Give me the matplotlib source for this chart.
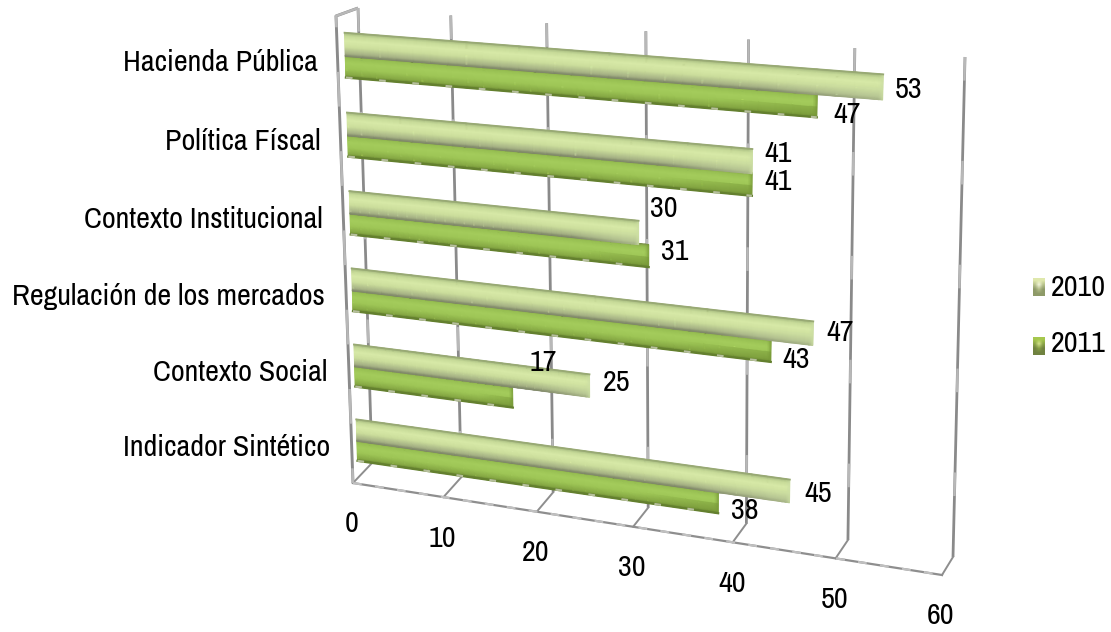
import numpy as np
import matplotlib
matplotlib.use('Agg')
from matplotlib import pyplot as plt

categories = ['Hacienda Pública', 'Política Físcal', 'Contexto Institucional',
              'Regulación de los mercados', 'Contexto Social', 'Indicador Sintético']
values_2010 = [53, 41, 30, 47, 25, 45]
values_2011 = [47, 41, 31, 43, 17, 38]
axis_ticks = [0, 10, 20, 30, 40, 50, 60]
series_names = ['2010', '2011']

# pixel offsets of the value labels from the end of each bar
offsets_2010 = [(26, 3), (26, -7), (25, -24), (27, 0), (27, -3), (29, 3)]
offsets_2011 = [(30, 9), (26, -3), (26, -4), (25, 9), (31, -34), (27, 8)]

plt.rcParams['font.family'] = ['Archivo Narrow', 'Liberation Sans']
TEXT_SIZE = 21.7

W, H = 1111, 632
fig = plt.figure(figsize=(W / 100, H / 100), dpi=100)
ax = fig.add_axes([0, 0, 1, 1])
ax.set_xlim(0, W)
ax.set_ylim(H, 0)
ax.axis('off')


def homography(corners):
    # unit square -> quad given as (0,0), (1,0), (0,1), (1,1)
    (x0, y0), (x1, y1), (x2, y2), (x3, y3) = corners
    dx1, dx2, sx = x1 - x3, x2 - x3, x0 - x1 - x2 + x3
    dy1, dy2, sy = y1 - y3, y2 - y3, y0 - y1 - y2 + y3
    det = dx1 * dy2 - dx2 * dy1
    g = (sx * dy2 - dx2 * sy) / det
    h = (dx1 * sy - sx * dy1) / det
    return np.array([[x1 - x0 + g * x1, x2 - x0 + h * x2, x0],
                     [y1 - y0 + g * y1, y2 - y0 + h * y2, y0],
                     [g, h, 1.0]])


def project(m, u, v):
    u, v = np.asarray(u, float), np.asarray(v, float)
    w = m[2, 0] * u + m[2, 1] * v + m[2, 2]
    return (m[0, 0] * u + m[0, 1] * v + m[0, 2]) / w, (m[1, 0] * u + m[1, 1] * v + m[1, 2]) / w


wall = homography([(358, 8), (965, 57), (372, 463), (953, 557)])
bars = homography([(344, 15), (962, 61), (358, 477), (946, 564)])


def floor_front(u):
    # front edge of the floor sits a little below and left of the wall foot
    x, y = project(wall, u, 1.0)
    return x - 19 + 8 * np.asarray(u), y + 20 - 2 * np.asarray(u)


def frame_line(xs, ys, width=2.0, gaps=(10, 34)):
    ax.plot(xs, ys, color='#8a8a8a', lw=width, solid_capstyle='butt', zorder=1)
    ax.plot(xs, ys, color='#b8b8b8', lw=width * 0.85, dashes=gaps, zorder=1.1)


# back wall lines, floor rungs and tick labels
for t in axis_ticks:
    u = t / 60
    x, y = project(wall, [u, u], [0, 1])
    frame_line(x, y)
    fx, fy = floor_front(u)
    ax.plot([x[1], fx], [y[1], fy], color='#8e8e8e', lw=1.4, zorder=1)
    ax.text(fx - 1, fy + 41, str(t), fontsize=TEXT_SIZE, ha='center', va='center', color='black')

fx, fy = floor_front(np.array([0.0, 1.0]))
ax.plot(fx, fy, color='#8e8e8e', lw=1.6, zorder=1)
ax.plot(fx, fy, color='#c0c0c0', lw=1.6, dashes=(4, 6), zorder=1.1)

# left side panel
side_x = [358, 336, 353]
side_y = [8, 16, 483]
frame_line(side_x, side_y, 2.1, (14, 18))

profile_t = [0, 0.07, 0.16, 0.36, 0.62, 0.90, 1.0]
colors_2010 = np.array([[0x9a, 0xab, 0x74], [0xb2, 0xc6, 0x88], [0xc8, 0xdc, 0x9a],
                        [0xd8, 0xea, 0xa8], [0xcc, 0xde, 0x9c], [0xa4, 0xb0, 0x84],
                        [0x7e, 0x86, 0x68]]) / 255
colors_2011 = np.array([[0x78, 0x8c, 0x4a], [0x8e, 0xb2, 0x4c], [0x9a, 0xc2, 0x54],
                        [0xa4, 0xcc, 0x5c], [0x9e, 0xc6, 0x56], [0x86, 0xa8, 0x44],
                        [0x60, 0x7c, 0x2e]]) / 255


def draw_bar(value, r0, r1, colors, end_color, z):
    u_end = value / 60
    uu = np.r_[np.linspace(0, u_end - 0.012, 30), u_end - 0.006, u_end]
    rr = np.linspace(r0, r1, 25)
    U, R = np.meshgrid(uu, rr)
    X, Y = project(bars, U, R / 6)
    t = (R - r0) / (r1 - r0)
    rgb = np.dstack([np.interp(t, profile_t, colors[:, i]) for i in range(3)])
    # the shadowed underside fades out towards the bar end
    lift = np.clip((uu / u_end - 0.78) / 0.22, 0, 1)[None, :, None] * (t[:, :, None] > 0.55)
    rgb = rgb * (1 - 0.55 * lift) + np.array(end_color) * 0.55 * lift
    # end cap, a few pixels wide
    cap = np.clip((uu - (u_end - 0.006)) / 0.006, 0, 1)[None, :, None]
    rgb = rgb * (1 - 0.8 * cap) + np.array(end_color) * 0.8 * cap
    ax.pcolormesh(X, Y, rgb, shading='gouraud', zorder=z)


for i, (v10, v11) in enumerate(zip(values_2010, values_2011)):
    top, mid, bottom = i + 0.22, i + 0.50, i + 0.78
    z = 2 + i
    draw_bar(v11, mid, bottom, colors_2011, (0.47, 0.60, 0.22), z)
    draw_bar(v10, top, mid + 0.015, colors_2010, (0.80, 0.87, 0.64), z + 0.1)

    # rough top and bottom edges
    x, y = project(bars, [0, v10 / 60], [top / 6, top / 6])
    ax.plot(x, y, color='#98a974', lw=1.3, zorder=z + 0.2)
    x, y = project(bars, [0, v11 / 60], [bottom / 6, bottom / 6])
    ax.plot(x, y, color='#64802f', lw=1.6, zorder=z + 0.2)
    ax.plot(x, y, color='#b6bf9c', lw=1.6, dashes=(3, 12), zorder=z + 0.3)

    # value labels
    x, y = project(bars, v10 / 60, (top + mid) / 2 / 6)
    ax.text(x + offsets_2010[i][0], y + offsets_2010[i][1], str(v10), fontsize=TEXT_SIZE,
            ha='center', va='center', color='black', zorder=20)
    x, y = project(bars, v11 / 60, (mid + bottom) / 2 / 6)
    ax.text(x + offsets_2011[i][0], y + offsets_2011[i][1], str(v11), fontsize=TEXT_SIZE,
            ha='center', va='center', color='black', zorder=20)

    # category labels hang off the left panel
    x, y = project(bars, 0, (i + 0.5) / 6)
    ax.text(x - 27, y + 7, categories[i], fontsize=TEXT_SIZE, ha='right', va='center', color='black')

# legend
legend_y = [287, 346]
legend_text_y = [287, 344]
legend_colors = [('#dfe8ac', '#f4f6dc', '#8e9a68'), ('#a6c84e', '#d6e48e', '#708240')]
for name, ly, ty, cols in zip(series_names, legend_y, legend_text_y, legend_colors):
    edge, spot, foot = [np.array(matplotlib.colors.to_rgb(c)) for c in cols]
    swatch = np.array([[edge, edge, edge],
                       [(edge + foot) / 2, spot, (edge + foot) / 2],
                       [foot, (edge + foot) / 2, foot],
                       [foot, foot, foot]])
    ax.imshow(swatch, extent=(1033, 1045, ly + 9, ly - 9), aspect='auto', zorder=5, interpolation='bilinear')
    ax.text(1051, ty, name, fontsize=TEXT_SIZE, ha='left', va='center', color='black')

ax.set_xlim(0, W)
ax.set_ylim(H, 0)
fig.savefig('out.png', dpi=100, facecolor='white')
